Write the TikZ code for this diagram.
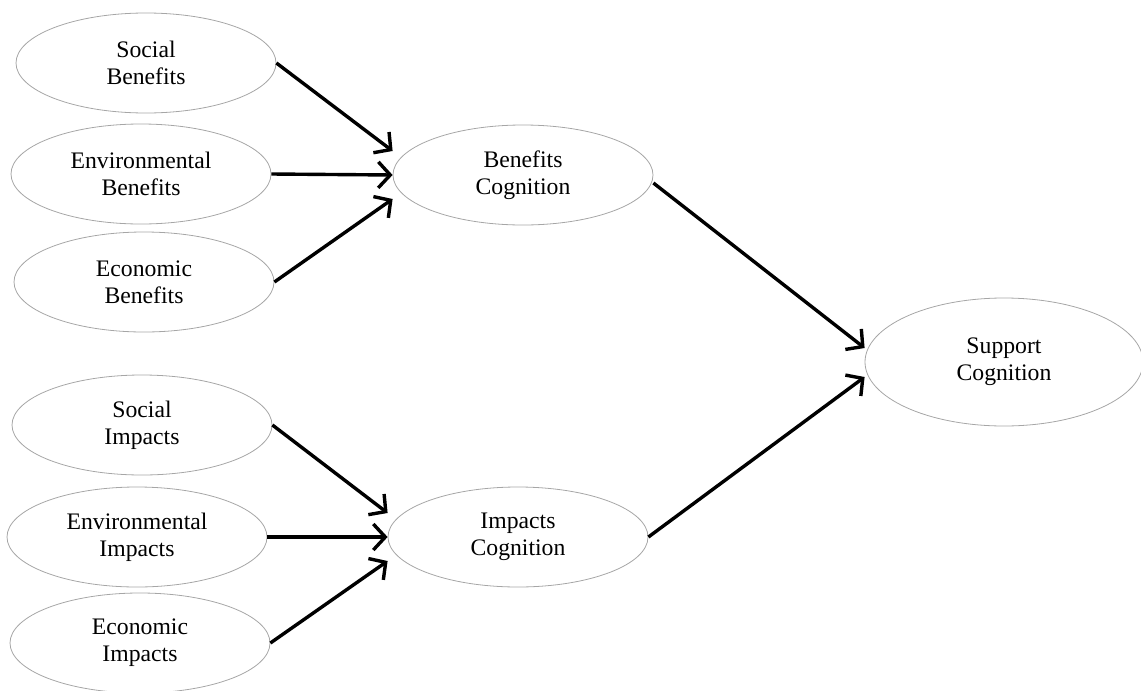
\documentclass[tikz,border=0pt]{standalone}
\usepackage{fontspec}
\setmainfont{Liberation Serif}
\usetikzlibrary{shapes.geometric}
\usetikzlibrary{arrows.meta}

\begin{document}
\begin{tikzpicture}[
            x=.5pt, y=-.5pt,
            latent/.style={ellipse, draw=black!35, line width=.4pt,
                minimum width=130pt, minimum height=50pt, inner sep=0pt,
                align=center, font=\fontsize{11.85}{13.5}\selectfont},
            effect/.style={line width=1.7pt, -{Straight Barb[length=6pt, width=13pt]}},
        ]
            \useasboundingbox (0, 0) rectangle (1141, 691);

            %% benefits side
            \node[latent] (socben) at (146, 63) {Social\\Benefits};
            \node[latent] (envben) at (141, 174) {Environmental\\Benefits};
            \node[latent] (ecoben) at (144, 282) {Economic\\Benefits};
            \node[latent] (bencog) at (523, 175) {Benefits\\Cognition};

            %% impacts side
            \node[latent] (socimp) at (142, 425) {Social\\Impacts};
            \node[latent] (envimp) at (137, 537) {Environmental\\Impacts};
            \node[latent] (ecoimp) at (140, 643) {Economic\\Impacts};
            \node[latent] (impcog) at (518, 537) {Impacts\\Cognition};

            \node[latent, minimum width=139pt, minimum height=64pt] (supcog) at (1004, 362)
                {Support\\Cognition};

            \foreach \src/\dst in {socben/bencog, socimp/impcog}{
                \draw[effect] (\src.east) -- ([yshift=12pt]\dst.west);
            }
            \foreach \src/\dst in {envben/bencog, envimp/impcog}{
                \draw[effect] (\src.east) -- (\dst.west);
            }
            \foreach \src/\dst in {ecoben/bencog, ecoimp/impcog}{
                \draw[effect] (\src.east) -- ([yshift=-12pt]\dst.west);
            }

            \draw[effect] ([yshift=-4pt]bencog.east) -- ([yshift=7pt]supcog.west);
            \draw[effect] (impcog.east) -- ([yshift=-7.5pt]supcog.west);
        \end{tikzpicture}
\end{document}
